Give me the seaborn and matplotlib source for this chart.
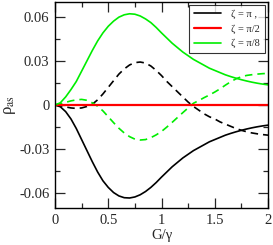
import numpy as np
import pandas as pd
import seaborn as sns
import matplotlib
matplotlib.use("Agg")
import matplotlib.pyplot as plt
from matplotlib.ticker import MultipleLocator, FixedLocator

# G/gamma grid and rho_as curves
g = [0.0, 0.05, 0.1, 0.15, 0.2, 0.25, 0.3, 0.35, 0.4, 0.45, 0.5,
     0.55, 0.6, 0.65, 0.7, 0.75, 0.8, 0.85, 0.9, 0.95, 1.0,
     1.05, 1.1, 1.15, 1.2, 1.25, 1.3, 1.35, 1.4, 1.45, 1.5,
     1.55, 1.6, 1.65, 1.7, 1.75, 1.8, 1.85, 1.9, 1.95, 2.0]

# zeta = pi (black)
pi_solid = [0.0, -0.0012, -0.0045, -0.0095, -0.016, -0.0235, -0.031, -0.0385, -0.0455, -0.0515, -0.056,
            -0.0595, -0.0618, -0.063, -0.0632, -0.0625, -0.061, -0.0588, -0.056, -0.0527, -0.049,
            -0.0455, -0.042, -0.039, -0.036, -0.0335, -0.031, -0.029, -0.027, -0.025, -0.0235,
            -0.022, -0.0205, -0.0193, -0.0182, -0.0172, -0.0163, -0.0155, -0.0148, -0.0142, -0.0137]
pi_dash = [0.0, -0.0005, -0.0013, -0.002, -0.0023, -0.002, -0.001, 0.0005, 0.0035, 0.0075, 0.012,
           0.0165, 0.021, 0.0245, 0.0272, 0.0288, 0.0292, 0.0285, 0.0265, 0.0235, 0.020,
           0.016, 0.0125, 0.009, 0.0055, 0.002, -0.001, -0.0035, -0.006, -0.008, -0.0095,
           -0.0115, -0.013, -0.0145, -0.016, -0.0172, -0.0182, -0.019, -0.0196, -0.0201, -0.0205]

# zeta = pi/2 (red)
half_solid = [0.0] * len(g)

# zeta = pi/8 (green)
eighth_solid = [0.0, 0.0015, 0.0055, 0.0105, 0.016, 0.023, 0.030, 0.037, 0.0435, 0.049, 0.0535,
                0.057, 0.0597, 0.0613, 0.062, 0.0617, 0.0605, 0.0585, 0.056, 0.0527, 0.049,
                0.0455, 0.042, 0.039, 0.036, 0.0335, 0.031, 0.029, 0.027, 0.025, 0.0235,
                0.022, 0.0205, 0.0193, 0.0182, 0.0172, 0.0163, 0.0155, 0.0148, 0.0142, 0.0137]
eighth_dash = [0.0, 0.0008, 0.0018, 0.0028, 0.0035, 0.0038, 0.0032, 0.0015, -0.0008, -0.004, -0.008,
               -0.012, -0.0158, -0.019, -0.0215, -0.0232, -0.0238, -0.0235, -0.0222, -0.0203, -0.018,
               -0.015, -0.0118, -0.0085, -0.0052, -0.002, 0.0012, 0.003, 0.005, 0.0068, 0.0088,
               0.011, 0.0135, 0.0158, 0.0178, 0.0192, 0.0201, 0.0206, 0.021, 0.0213, 0.0215]

labels = ["\u03b6 = \u03c0 ,", "\u03b6 = \u03c0/2", "\u03b6 = \u03c0/8"]
xticks = [0, 0.5, 1, 1.5, 2]
xticklabels = ["0", "0.5", "1", "1.5", "2"]
yticks = [-0.06, -0.03, 0, 0.03, 0.06]
yticklabels = ["-0.06", "-0.03", "0", "0.03", "0.06"]

sns.set_style("ticks")
plt.rcParams["font.family"] = ["Liberation Serif", "DejaVu Serif"]
plt.rcParams["mathtext.fontset"] = "stix"
plt.rcParams["axes.unicode_minus"] = False

fig = plt.figure(figsize=(2.73, 2.45), dpi=100)
ax = fig.add_axes([55 / 273, 1 - 208 / 245, 213 / 273, 206 / 245])

green = "#00ee00"
sns.lineplot(x=g, y=pi_dash, ax=ax, color="black", lw=1.2, linestyle=(0, (4.5, 3)))
sns.lineplot(x=g, y=eighth_dash, ax=ax, color=green, lw=1.2, linestyle=(0, (4.5, 3)))
sns.lineplot(x=g, y=pi_solid, ax=ax, color="black", lw=1.2, label=labels[0])
sns.lineplot(x=g, y=half_solid, ax=ax, color="#ff0000", lw=1.6, label=labels[1])
sns.lineplot(x=g, y=eighth_solid, ax=ax, color=green, lw=1.2, label=labels[2])

ax.set_xlim(0, 2)
ax.set_ylim(-0.07, 0.07)
ax.xaxis.set_major_locator(FixedLocator(xticks))
ax.set_xticklabels(xticklabels)
ax.xaxis.set_minor_locator(MultipleLocator(0.25))
ax.yaxis.set_major_locator(FixedLocator(yticks))
ax.set_yticklabels(yticklabels)
ax.yaxis.set_minor_locator(MultipleLocator(0.015))

ax.tick_params(which="both", direction="in", top=True, right=True, labelsize=10.5, width=0.9)
ax.tick_params(which="major", length=7.5, pad=4)
ax.tick_params(which="minor", length=3.5)
for s in ax.spines.values():
    s.set_linewidth(1.0)
    s.set_color("black")

ax.set_xlabel("G/\u03b3", fontsize=10.5, labelpad=2)
ax.set_ylabel("\u03c1$_{\\rm as}$", fontsize=12, labelpad=1)

leg = ax.legend(loc="upper right", fontsize=7.5, frameon=True, fancybox=False,
                edgecolor="black", handlelength=2.6, handletextpad=1.0,
                borderaxespad=0.3, labelspacing=0.5, borderpad=0.45)
leg.get_frame().set_linewidth(0.8)

fig.savefig("out.png", dpi=100)
